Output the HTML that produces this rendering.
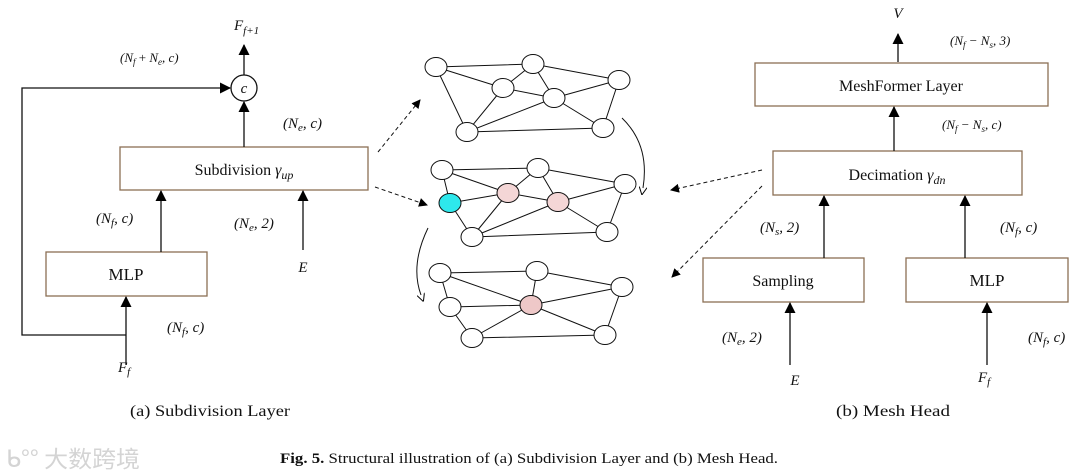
<!DOCTYPE html>
<html><head><meta charset="utf-8"><style>
html,body{margin:0;padding:0;background:#fff;}
svg{display:block;}
text{font-family:"Liberation Serif",serif;fill:#111;}
.it{font-style:italic;}
</style></head><body>
<svg width="1080" height="475" viewBox="0 0 1080 475" xmlns="http://www.w3.org/2000/svg">
<defs>
<marker id="ah" markerWidth="11" markerHeight="11" refX="10" refY="5.5" orient="auto" markerUnits="userSpaceOnUse"><path d="M0,0 L11,5.5 L0,11 Z" fill="#000"/></marker>
<marker id="ah2" markerWidth="9" markerHeight="9" refX="8" refY="4.5" orient="auto" markerUnits="userSpaceOnUse"><path d="M0,0 L9,4.5 L0,9 Z" fill="#000"/></marker>
<marker id="ah3" markerWidth="8" markerHeight="8" refX="1" refY="4" orient="auto" markerUnits="userSpaceOnUse"><path d="M0,0 L8,4 L0,8" fill="none" stroke="#000"/></marker>
</defs>
<g stroke="#111" stroke-width="1.3" fill="none">
<rect x="120" y="147" width="248" height="43" stroke="#8b6f55"/>
<rect x="46" y="252" width="161" height="44" stroke="#8b6f55"/>
<circle cx="244" cy="88" r="13"/>
<line x1="244" y1="75" x2="244" y2="45" marker-end="url(#ah)"/>
<line x1="244" y1="147" x2="244" y2="102" marker-end="url(#ah)"/>
<polyline points="126,335 22,335 22,88 230,88" marker-end="url(#ah)"/>
<line x1="126" y1="365" x2="126" y2="297" marker-end="url(#ah)"/>
<line x1="161" y1="252" x2="161" y2="191" marker-end="url(#ah)"/>
<line x1="303" y1="250" x2="303" y2="191" marker-end="url(#ah)"/>
<rect x="755" y="63" width="293" height="43" stroke="#8b6f55"/>
<rect x="773" y="151" width="249" height="44" stroke="#8b6f55"/>
<rect x="703" y="258" width="161" height="44" stroke="#8b6f55"/>
<rect x="906" y="258" width="162" height="44" stroke="#8b6f55"/>
<line x1="898" y1="62" x2="898" y2="34" marker-end="url(#ah)"/>
<line x1="894" y1="151" x2="894" y2="107" marker-end="url(#ah)"/>
<line x1="824" y1="258" x2="824" y2="196" marker-end="url(#ah)"/>
<line x1="965" y1="258" x2="965" y2="196" marker-end="url(#ah)"/>
<line x1="790" y1="365" x2="790" y2="303" marker-end="url(#ah)"/>
<line x1="987" y1="365" x2="987" y2="303" marker-end="url(#ah)"/>
<g stroke-dasharray="4,3" stroke-width="1">
<line x1="378" y1="152" x2="420" y2="100" marker-end="url(#ah2)"/>
<line x1="375" y1="187" x2="427" y2="205" marker-end="url(#ah2)"/>
<line x1="762" y1="170" x2="671" y2="190" marker-end="url(#ah2)"/>
<line x1="762" y1="186" x2="672" y2="277" marker-end="url(#ah2)"/>
</g>
<path d="M622,118 Q650,145 643,188" marker-end="url(#ah3)" stroke-width="1"/>
<path d="M428,228 Q410,265 421,295" marker-end="url(#ah3)" stroke-width="1"/>
<g stroke-width="1">
<path d="M436,67L533,64M533,64L619,80M436,67L503,88M436,67L467,132M503,88L533,64M503,88L554,98M533,64L554,98M554,98L619,80M503,88L467,132M467,132L554,98M467,132L603,128M554,98L603,128M619,80L603,128"/>
<path d="M442,170L538,168M538,168L625,184M442,170L450,203M442,170L508,193M450,203L508,193M450,203L472,237M508,193L538,168M508,193L558,202M538,168L558,202M558,202L625,184M508,193L472,237M472,237L558,202M472,237L607,232M558,202L607,232M625,184L607,232"/>
<path d="M440,273L537,271M537,271L622,287M440,273L450,307M440,273L531,305M450,307L531,305M450,307L472,338M537,271L531,305M531,305L622,287M531,305L472,338M531,305L605,335M472,338L605,335M622,287L605,335"/>
</g>
<g fill="#fff" stroke-width="1">
<ellipse cx="436" cy="67" rx="11" ry="9.5"/><ellipse cx="533" cy="64" rx="11" ry="9.5"/><ellipse cx="619" cy="80" rx="11" ry="9.5"/><ellipse cx="503" cy="88" rx="11" ry="9.5"/><ellipse cx="554" cy="98" rx="11" ry="9.5"/><ellipse cx="467" cy="132" rx="11" ry="9.5"/><ellipse cx="603" cy="128" rx="11" ry="9.5"/>
<ellipse cx="442" cy="170" rx="11" ry="9.5"/><ellipse cx="538" cy="168" rx="11" ry="9.5"/><ellipse cx="625" cy="184" rx="11" ry="9.5"/><ellipse cx="450" cy="203" rx="11" ry="9.5" fill="#2ee8ec"/><ellipse cx="508" cy="193" rx="11" ry="9.5" fill="#f4d6d6"/><ellipse cx="558" cy="202" rx="11" ry="9.5" fill="#f4d6d6"/><ellipse cx="472" cy="237" rx="11" ry="9.5"/><ellipse cx="607" cy="232" rx="11" ry="9.5"/>
<ellipse cx="440" cy="273" rx="11" ry="9.5"/><ellipse cx="537" cy="271" rx="11" ry="9.5"/><ellipse cx="622" cy="287" rx="11" ry="9.5"/><ellipse cx="450" cy="307" rx="11" ry="9.5"/><ellipse cx="531" cy="305" rx="11" ry="9.5" fill="#eec8c8"/><ellipse cx="472" cy="338" rx="11" ry="9.5"/><ellipse cx="605" cy="335" rx="11" ry="9.5"/>
</g>
</g>
<g font-size="15">
<text x="244" y="93" text-anchor="middle" class="it">c</text>
<text x="234" y="30" class="it">F<tspan font-size="11" dy="4">f+1</tspan></text>
<text x="120" y="62" font-size="13"><tspan class="it">(N</tspan><tspan class="it" font-size="9" dy="3">f</tspan><tspan dy="-3"> + </tspan><tspan class="it">N</tspan><tspan class="it" font-size="9" dy="3">e</tspan><tspan dy="-3" class="it">, c)</tspan></text>
<text x="283" y="128" class="it">(N<tspan font-size="11" dy="3">e</tspan><tspan dy="-3">, c)</tspan></text>
<text x="244" y="175" text-anchor="middle" font-size="16">Subdivision <tspan class="it">γ</tspan><tspan class="it" font-size="12" dy="4">up</tspan></text>
<text x="96" y="223" class="it">(N<tspan font-size="11" dy="3">f</tspan><tspan dy="-3">, c)</tspan></text>
<text x="234" y="228" class="it">(N<tspan font-size="11" dy="3">e</tspan><tspan dy="-3">, 2)</tspan></text>
<text x="303" y="272" text-anchor="middle" class="it">E</text>
<text x="126" y="280" text-anchor="middle" font-size="17">MLP</text>
<text x="167" y="332" class="it">(N<tspan font-size="11" dy="3">f</tspan><tspan dy="-3">, c)</tspan></text>
<text x="118" y="372" class="it">F<tspan font-size="11" dy="3">f</tspan></text>
<text x="130" y="416" font-size="16" textLength="160" lengthAdjust="spacingAndGlyphs">(a) Subdivision Layer</text>
<text x="898" y="18" text-anchor="middle" class="it">V</text>
<text x="950" y="45" font-size="13" class="it">(N<tspan font-size="9" dy="3">f</tspan><tspan dy="-3"> − N</tspan><tspan font-size="9" dy="3">s</tspan><tspan dy="-3">, 3)</tspan></text>
<text x="901" y="91" text-anchor="middle" font-size="16">MeshFormer Layer</text>
<text x="942" y="129" font-size="13" class="it">(N<tspan font-size="9" dy="3">f</tspan><tspan dy="-3"> − N</tspan><tspan font-size="9" dy="3">s</tspan><tspan dy="-3">, c)</tspan></text>
<text x="897" y="180" text-anchor="middle" font-size="16">Decimation <tspan class="it">γ</tspan><tspan class="it" font-size="12" dy="4">dn</tspan></text>
<text x="760" y="232" class="it">(N<tspan font-size="11" dy="3">s</tspan><tspan dy="-3">, 2)</tspan></text>
<text x="1000" y="232" class="it">(N<tspan font-size="11" dy="3">f</tspan><tspan dy="-3">, c)</tspan></text>
<text x="783" y="286" text-anchor="middle" font-size="16">Sampling</text>
<text x="987" y="286" text-anchor="middle" font-size="17">MLP</text>
<text x="722" y="342" class="it">(N<tspan font-size="11" dy="3">e</tspan><tspan dy="-3">, 2)</tspan></text>
<text x="1028" y="342" class="it">(N<tspan font-size="11" dy="3">f</tspan><tspan dy="-3">, c)</tspan></text>
<text x="795" y="385" text-anchor="middle" class="it">E</text>
<text x="978" y="382" class="it">F<tspan font-size="11" dy="3">f</tspan></text>
<text x="836" y="416" font-size="16" textLength="114" lengthAdjust="spacingAndGlyphs">(b)  Mesh Head</text>
<text x="280" y="463" font-size="15" textLength="498" lengthAdjust="spacingAndGlyphs"><tspan font-weight="bold">Fig. 5.</tspan>  Structural illustration of (a) Subdivision Layer and (b) Mesh Head.</text>
<text x="6" y="467" font-size="23" textLength="134" lengthAdjust="spacingAndGlyphs" style="fill:#d4d4d4;font-family:'Noto Sans CJK SC',sans-serif">ᑲ°° 大数跨境</text>
</g>
</svg>
</body></html>
